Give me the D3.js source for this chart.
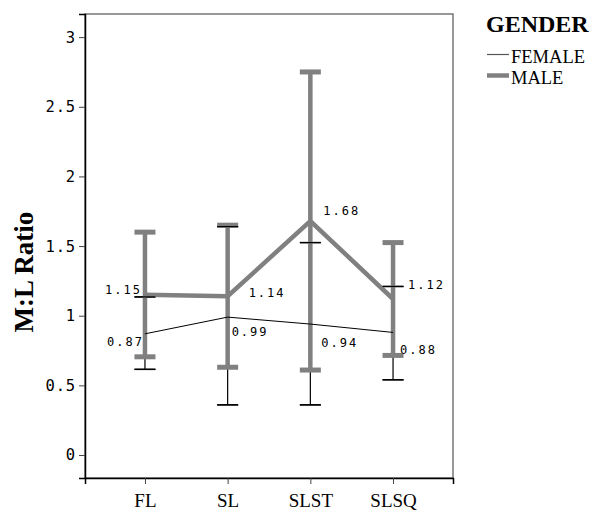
<!DOCTYPE html>
<html>
<head>
<meta charset="utf-8">
<script src="https://cdn.jsdelivr.net/npm/d3@7"></script>
<style>
  body { margin: 0; background: #fff; }
  svg { display: block; }
</style>
</head>
<body>
<div id="container"><svg></svg></div>
<script>
// categories and series
const CATEGORIES = ["FL", "SL", "SLST", "SLSQ"];
const FEMALE_MEAN = [0.87, 0.99, 0.94, 0.88];
const FEMALE_LOW  = [0.615, 0.36, 0.36, 0.54];
const FEMALE_HIGH = [1.135, 1.64, 1.525, 1.21];
const MALE_MEAN = [1.15, 1.14, 1.68, 1.12];
const MALE_LOW  = [0.705, 0.63, 0.61, 0.715];
const MALE_HIGH = [1.60, 1.65, 2.75, 1.525];
const Y_TICKS = [0, 0.5, 1, 1.5, 2, 2.5, 3];

// label nudges (px) for the value labels, [dx, dy] from the mean point
const FEMALE_LABEL_OFF = [[-38, 8], [4, 15], [11, 19], [7, 17]];
const MALE_LABEL_OFF   = [[-40, -5], [21, -3], [13, -10], [15, -14]];

const width = 595, height = 510;
const plotL = 85, plotR = 453, plotT = 14, plotB = 478;
const GREY = "#808080";
const MONO = "'DejaVu Sans Mono', monospace";
const SERIF = "'Liberation Serif', 'Times New Roman', serif";

let svg = d3.select("svg").attr("width", width).attr("height", height);

// SCALES
let x = d3.scalePoint().domain(CATEGORIES).range([plotL, plotR]).padding(0.725);
let y = d3.scaleLinear().domain([-0.165, 3.166]).range([plotB, plotT]);

// frame
svg.append("rect")
  .attr("x", plotL).attr("y", plotT)
  .attr("width", plotR - plotL).attr("height", plotB - plotT)
  .attr("fill", "none").attr("stroke", "#777").attr("stroke-width", 1.5);

// axes
let yAxis = svg.append("g")
  .attr("transform", `translate(${plotL},0)`)
  .call(d3.axisLeft(y).tickValues(Y_TICKS).tickSize(6).tickPadding(3).tickFormat(d3.format("")));
let xAxis = svg.append("g")
  .attr("transform", `translate(0,${plotB})`)
  .call(d3.axisBottom(x).tickSize(6).tickPadding(6));

yAxis.select(".domain").attr("stroke", "#000").attr("stroke-width", 1.5);
xAxis.select(".domain").attr("stroke", "#000").attr("stroke-width", 1.5);
yAxis.selectAll(".tick line").attr("stroke", "#444");
xAxis.selectAll(".tick line").attr("stroke", "#444");
yAxis.selectAll("text")
  .attr("font-family", MONO).attr("font-size", 15.5).attr("letter-spacing", 0.8)
  .attr("fill", "#000");
xAxis.selectAll("text")
  .attr("font-family", SERIF).attr("font-size", 19).attr("fill", "#000")
  .attr("y", 29).attr("dy", 0);

// y title
svg.append("text")
  .attr("transform", `translate(33,272) rotate(-90)`)
  .attr("text-anchor", "middle")
  .attr("font-family", SERIF).attr("font-size", 27).attr("font-weight", "bold")
  .text("M:L Ratio");

function errorBars(g, lows, highs, color, sw, capW, capSw) {
  CATEGORIES.forEach((c, i) => {
    let cx = x(c);
    g.append("line")
      .attr("x1", cx).attr("x2", cx)
      .attr("y1", y(lows[i])).attr("y2", y(highs[i]))
      .attr("stroke", color).attr("stroke-width", sw);
    [lows[i], highs[i]].forEach(v => {
      g.append("line")
        .attr("x1", cx - capW / 2).attr("x2", cx + capW / 2)
        .attr("y1", y(v)).attr("y2", y(v))
        .attr("stroke", color).attr("stroke-width", capSw);
    });
  });
}

let line = d3.line().x((d, i) => x(CATEGORIES[i])).y(d => y(d));

// female first (underneath), then male over, then female caps again visible
let fem = svg.append("g");
errorBars(fem, FEMALE_LOW, FEMALE_HIGH, "#000", 1.2, 21, 1.5);

let male = svg.append("g");
errorBars(male, MALE_LOW, MALE_HIGH, GREY, 4.5, 21, 5);
male.append("path")
  .attr("d", line(MALE_MEAN))
  .attr("fill", "none").attr("stroke", GREY).attr("stroke-width", 4.5)
  .attr("stroke-linejoin", "miter");

// female caps and line on top
let femTop = svg.append("g");
CATEGORIES.forEach((c, i) => {
  [FEMALE_LOW[i], FEMALE_HIGH[i]].forEach(v => {
    femTop.append("line")
      .attr("x1", x(c) - 10.5).attr("x2", x(c) + 10.5)
      .attr("y1", y(v)).attr("y2", y(v))
      .attr("stroke", "#000").attr("stroke-width", 1.2);
  });
});
femTop.append("path")
  .attr("d", line(FEMALE_MEAN))
  .attr("fill", "none").attr("stroke", "#000").attr("stroke-width", 1);

// value labels
function valueLabels(vals, offs) {
  svg.append("g").selectAll("text")
    .data(vals)
    .enter()
    .append("text")
    .attr("x", (d, i) => x(CATEGORIES[i]) + offs[i][0])
    .attr("y", (d, i) => y(d) + offs[i][1])
    .attr("dy", "0.35em")
    .attr("font-family", MONO).attr("font-size", 12).attr("letter-spacing", 2)
    .attr("text-anchor", "start")
    .text(d => d3.format(".2f")(d));
}
valueLabels(FEMALE_MEAN, FEMALE_LABEL_OFF);
valueLabels(MALE_MEAN, MALE_LABEL_OFF);

// legend
let legend = svg.append("g");
legend.append("text")
  .attr("x", 486).attr("y", 32)
  .attr("font-family", SERIF).attr("font-size", 24).attr("font-weight", "bold")
  .text("GENDER");
let items = [{ name: "FEMALE", sw: 1.2 }, { name: "MALE", sw: 4.5 }];
items.forEach((d, i) => {
  let ly = 54.5 + i * 21;
  legend.append("line")
    .attr("x1", 487).attr("x2", 509).attr("y1", ly).attr("y2", ly)
    .attr("stroke", i ? GREY : "#555").attr("stroke-width", d.sw);
  legend.append("text")
    .attr("x", 511).attr("y", ly + 8)
    .attr("font-family", SERIF).attr("font-size", 18.5)
    .text(d.name);
});
</script>
</body>
</html>
